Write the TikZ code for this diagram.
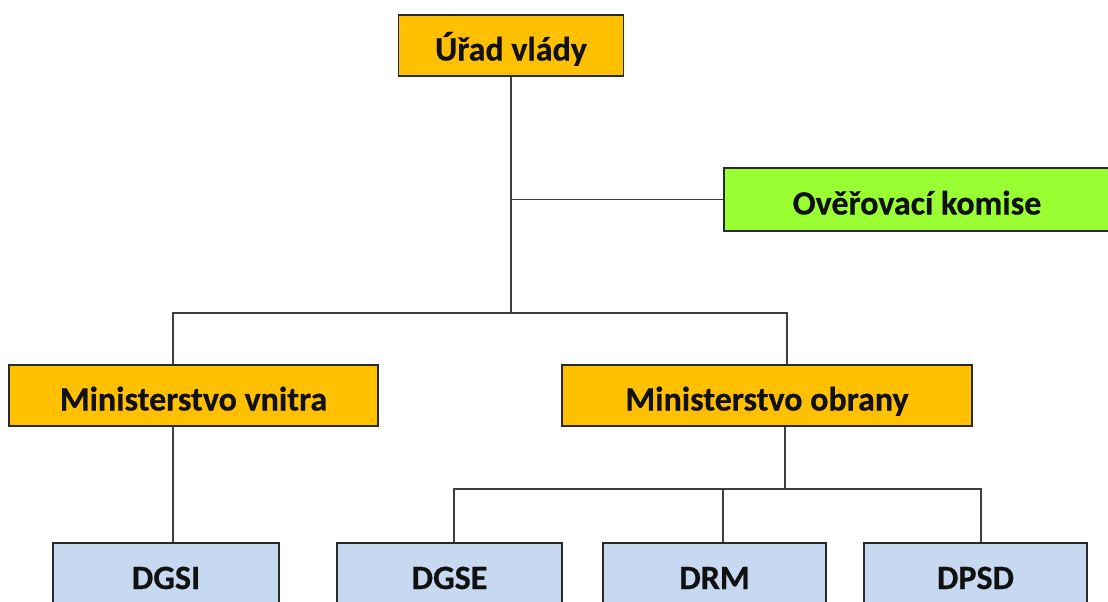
\documentclass[tikz,border=0pt]{standalone}
\usepackage{fontspec}
\setmainfont{Carlito}[BoldFeatures={FakeBold=0.6}]
\definecolor{orgfill}{HTML}{FFC000}
\definecolor{grnfill}{HTML}{99FF33}
\definecolor{bluefill}{HTML}{C6D9F1}
\definecolor{edge}{HTML}{2A2A2A}
\definecolor{txt}{HTML}{111111}
\tikzset{
  orgbox/.style={draw=edge, line width=1.8pt, fill=#1, inner sep=0pt,
    font=\fontsize{34}{40}\selectfont\bfseries, text=txt,
    text height=30pt, text depth=0pt},
  conn/.style={draw=edge!90, line width=1.8pt}
}
\begin{document}
\begin{tikzpicture}[x=1pt,y=-1pt]
\useasboundingbox (0,0) rectangle (1108,602);
\clip (0,0) rectangle (1108,602);
\fill[white] (0,0) rectangle (1108,602);
% nodes
\node[orgbox=orgfill, minimum width=225pt, minimum height=61pt] (urad) at (511,45.5) {Úřad vlády};
\node[orgbox=grnfill, minimum width=386pt, minimum height=63pt] (komise) at (917,199.5) {Ověřovací komise};
\node[orgbox=orgfill, minimum width=369pt, minimum height=61pt] (vnitra) at (193.5,395.5) {Ministerstvo vnitra};
\node[orgbox=orgfill, minimum width=410pt, minimum height=61pt] (obrany) at (767,395.5) {Ministerstvo obrany};
\node[orgbox=bluefill, minimum width=226pt, minimum height=62pt] (dgsi) at (166,574) {DGSI};
\node[orgbox=bluefill, minimum width=225pt, minimum height=62pt] (dgse) at (449.5,574) {DGSE};
\node[orgbox=bluefill, minimum width=223pt, minimum height=62pt] (drm) at (714.5,574) {DRM};
\node[orgbox=bluefill, minimum width=223pt, minimum height=62pt] (dpsd) at (975.5,574) {DPSD};
% junction coordinates
\coordinate (jm) at (511,313);
\coordinate (busA) at (173,313);
\coordinate (busB) at (787,313);
\coordinate (busC) at (785,489);
\coordinate (bL) at (454,489);
\coordinate (bM) at (723,489);
\coordinate (bR) at (981,489);
% connectors
\draw[conn] (urad.south) -- (jm);
\draw[conn] (urad.south |- komise.west) -- (komise.west);
\draw[conn] (busA |- vnitra.north) -- (busA) -- (busB) -- (busB |- obrany.north);
\draw[conn] (vnitra.south -| busA) -- (busA |- dgsi.north);
\draw[conn] (obrany.south -| busC) -- (busC);
\draw[conn] (bL |- dgse.north) -- (bL) -- (bR) -- (bR |- dpsd.north);
\draw[conn] (bM) -- (bM |- drm.north);
\end{tikzpicture}
\end{document}
